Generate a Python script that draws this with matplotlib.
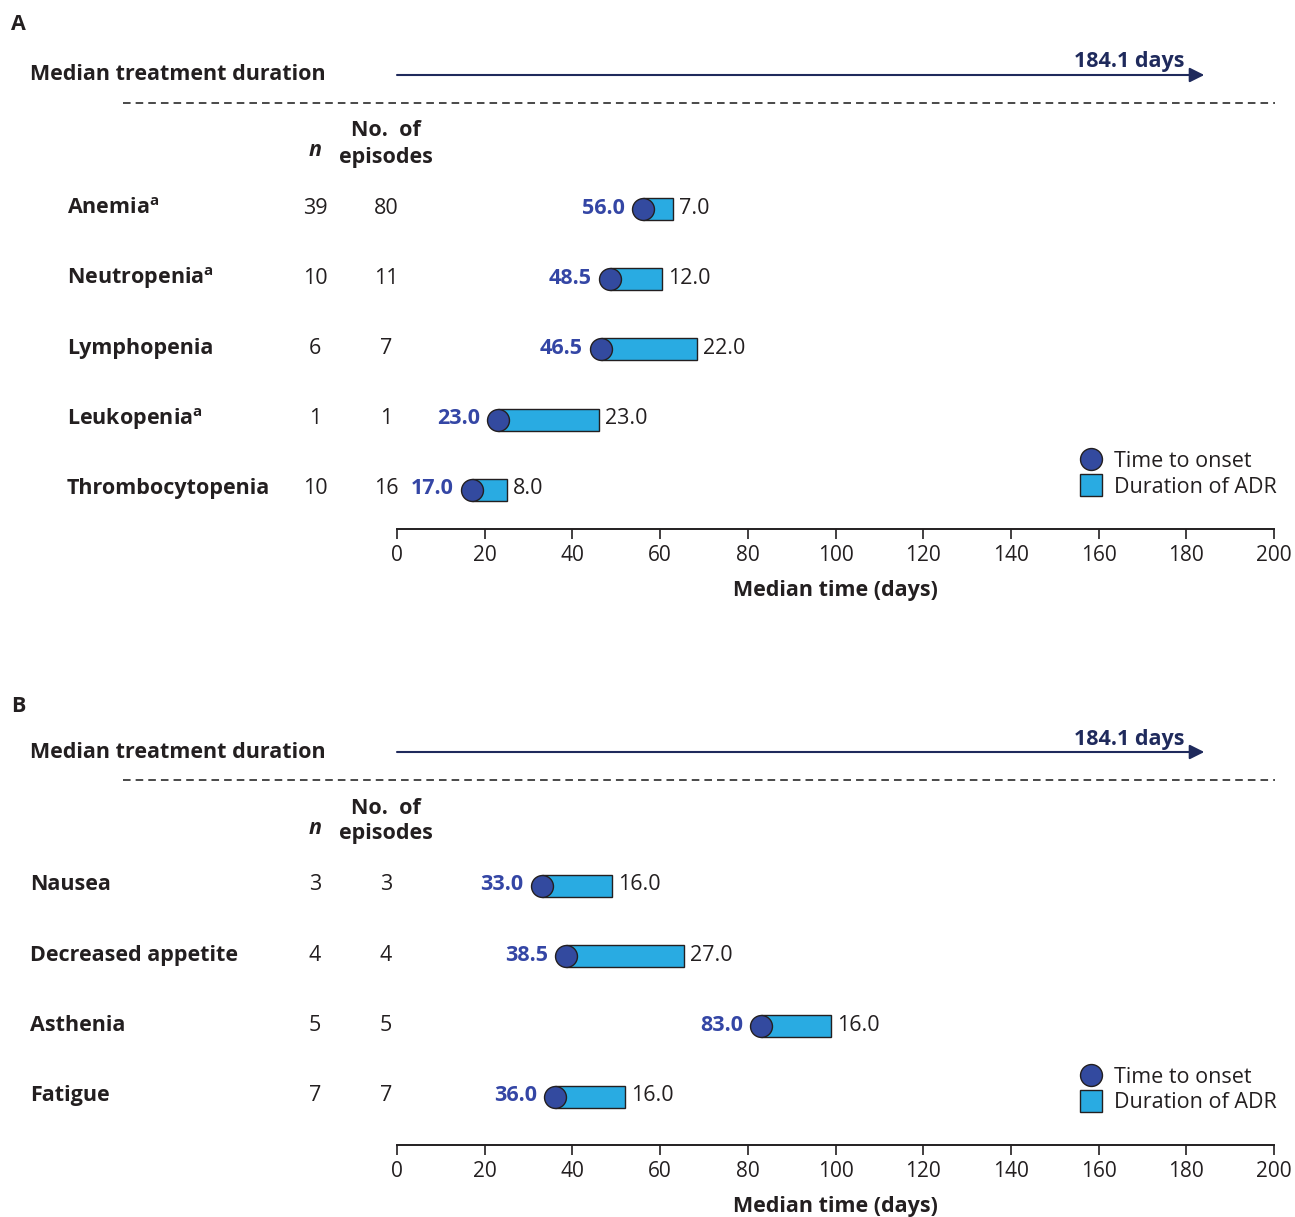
import matplotlib
matplotlib.use('Agg')
import matplotlib.pyplot as plt
import matplotlib.transforms as mtransforms
from matplotlib.lines import Line2D

plt.rcParams['font.family'] = ['Open Sans', 'DejaVu Sans']
plt.rcParams['mathtext.fontset'] = 'custom'
plt.rcParams['mathtext.rm'] = 'Open Sans:bold'

W, H = 1295, 1217
treatment_days = 184.1

# panel A: haematological ADRs
hem_labels = ['Anemia$^{\\mathrm{a}}$', 'Neutropenia$^{\\mathrm{a}}$', 'Lymphopenia',
              'Leukopenia$^{\\mathrm{a}}$', 'Thrombocytopenia']
hem_n = [39, 10, 6, 1, 10]
hem_episodes = [80, 11, 7, 1, 16]
hem_onset = [56.0, 48.5, 46.5, 23.0, 17.0]
hem_duration = [7.0, 12.0, 22.0, 23.0, 8.0]

# panel B: other ADRs
gi_labels = ['Nausea', 'Decreased appetite', 'Asthenia', 'Fatigue']
gi_n = [3, 4, 5, 7]
gi_episodes = [3, 4, 5, 7]
gi_onset = [33.0, 38.5, 83.0, 36.0]
gi_duration = [16.0, 27.0, 16.0, 16.0]

xticks = list(range(0, 201, 20))

dark = '#231f20'
navy = '#1f2a5c'
circ_col = '#334a9f'
bar_col = '#29abe2'
onset_col = '#3446a5'
FS = 15.5

fig = plt.figure(figsize=(W / 100, H / 100), dpi=100)


def draw_panel(letter, letter_y, T, labels, label_x, n, episodes, onset, duration, axis_gap):
    rows = [133 + 70.2 * i for i in range(len(labels))]
    axis_y = T + rows[-1] + axis_gap
    ax = fig.add_axes([397 / W, 1 - axis_y / H, 877 / W, (axis_y - T + 70) / H])
    ax.set_xlim(0, 200)
    ax.set_ylim(axis_y - T, -70)
    ax.patch.set_visible(False)
    blend = mtransforms.blended_transform_factory(fig.transFigure, ax.transData)

    fig.text(18 / W, 1 - letter_y / H, letter, ha='center', va='center',
             fontsize=FS, fontweight='bold', color=dark)
    ax.text(30 / W, 0, 'Median treatment duration', transform=blend, ha='left',
            va='center', fontsize=FS, fontweight='bold', color=dark)
    ax.annotate('', xy=(treatment_days, 0), xytext=(0, 0), annotation_clip=False,
                arrowprops=dict(arrowstyle='-|>', color=navy, lw=1.5,
                                shrinkA=0, shrinkB=0, mutation_scale=22))
    ax.text(1185 / W, -13, f'{treatment_days:.1f} days', transform=blend, ha='right',
            va='center', fontsize=FS, fontweight='bold', color=navy)
    ax.plot([123 / W, 1275 / W], [28, 28], transform=blend, color='#3a3a3a', lw=1.3,
            linestyle=(0, (4.2, 2.8)), clip_on=False)

    ax.text(386 / W, 56, 'No.  of', transform=blend, ha='center', va='center',
            fontsize=FS, fontweight='bold', color=dark)
    ax.text(386 / W, 82, 'episodes', transform=blend, ha='center', va='center',
            fontsize=FS, fontweight='bold', color=dark)
    ax.text(315 / W, 76, 'n', transform=blend, ha='center', va='center',
            fontsize=FS, fontweight='bold', fontstyle='italic', color=dark)

    for y, lab, nn, ep in zip(rows, labels, n, episodes):
        ax.text(label_x / W, y, lab, transform=blend, ha='left', va='center',
                fontsize=FS, fontweight='bold', color=dark)
        ax.text(315 / W, y, str(nn), transform=blend, ha='center', va='center',
                fontsize=FS, color=dark)
        ax.text(386 / W, y, str(ep), transform=blend, ha='center', va='center',
                fontsize=FS, color=dark)

    bar_y = [y + 1 for y in rows]
    ax.barh(bar_y, duration, left=onset, height=22, color=bar_col, edgecolor=dark,
            lw=1, zorder=2)
    ax.plot(onset, bar_y, 'o', ms=15.8, mfc=circ_col, mec=dark, mew=1, zorder=3)
    for y, o, d in zip(rows, onset, duration):
        ax.annotate(f'{o:.1f}', xy=(o, y), xytext=(-18, 0), textcoords='offset pixels',
                    ha='right', va='center', fontsize=FS, fontweight='bold',
                    color=onset_col)
        ax.annotate(f'{d:.1f}', xy=(o + d, y), xytext=(6, 0), textcoords='offset pixels',
                    ha='left', va='center', fontsize=FS, color=dark)

    for s in ['top', 'left', 'right']:
        ax.spines[s].set_visible(False)
    ax.spines['bottom'].set_linewidth(1.4)
    ax.spines['bottom'].set_color(dark)
    ax.set_yticks([])
    ax.set_xticks(xticks)
    ax.tick_params(axis='x', length=7, width=1.2, color=dark, labelsize=15,
                   labelcolor=dark, pad=5)
    ax.set_xlabel('Median time (days)', fontsize=FS, fontweight='bold', color=dark,
                  labelpad=10)

    handles = [Line2D([], [], marker='o', ls='none', ms=15.8, mfc=circ_col, mec=dark),
               Line2D([], [], marker='s', ls='none', ms=15.5, mfc=bar_col, mec=dark)]
    ax.legend(handles, ['Time to onset', 'Duration of ADR'], loc='center left',
              bbox_to_anchor=(1080 / W, axis_y - T - 54.5), bbox_transform=blend,
              frameon=False, fontsize=FS, handlelength=1.0, handletextpad=0.58,
              borderpad=0, borderaxespad=0, labelspacing=0.22, labelcolor=dark)


draw_panel('A', 24, 75, hem_labels, 67, hem_n, hem_episodes, hem_onset, hem_duration, 40)
draw_panel('B', 707, 752, gi_labels, 30, gi_n, gi_episodes, gi_onset, gi_duration, 49)

fig.savefig('out.png', dpi=100)
